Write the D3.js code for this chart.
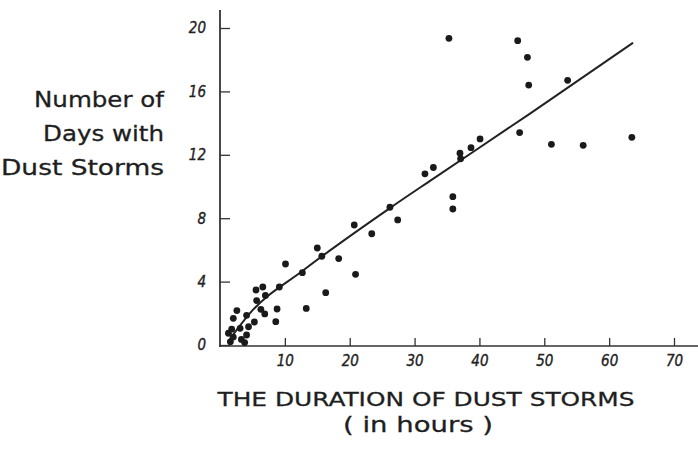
<!DOCTYPE html>
<html>
<head>
<meta charset="utf-8">
<script src="https://cdn.jsdelivr.net/npm/d3@7"></script>
<style>
    body { margin: 0; background: #fff; }
    .tick text { font-family: "DejaVu Sans Condensed", "Liberation Sans Narrow", sans-serif; font-style: italic; font-size: 15px; fill: #222; stroke: #222; stroke-width: 0.35px; }
    .label { font-family: "DejaVu Sans", sans-serif; fill: #1e1e1e; stroke: #1e1e1e; stroke-width: 0.3px; }
</style>
</head>
<body>
<div id="chart"></div>
<script>
// duration of dust storms (hours) and number of days with dust storms
var hours = [
    35.3, 45.9, 47.4, 47.6, 53.6, 63.5, 46.2, 51.1, 56.0, 40.1, 38.7, 37.0, 37.1, 32.9, 31.6, 35.9, 35.9,
    26.2, 27.4, 20.7, 23.4, 15.0, 15.7, 18.3, 10.1, 12.7, 20.9, 16.3, 13.3, 9.15, 6.6, 5.55, 7.0, 5.65,
    8.8, 6.3, 6.9, 8.6, 5.3,
    2.6, 2.05, 4.1, 1.8, 3.1, 4.4, 1.3, 2.05, 4.1, 3.3, 1.6, 3.8
];
var days = [
    19.35, 19.2, 18.15, 16.4, 16.7, 13.1, 13.4, 12.66, 12.6, 13.0, 12.45, 12.1, 11.75, 11.2, 10.8, 9.36, 8.58,
    8.69, 7.89, 7.57, 7.02, 6.12, 5.6, 5.45, 5.11, 4.56, 4.46, 3.3, 2.31, 3.66, 3.66, 3.47, 3.13, 2.8,
    2.27, 2.25, 1.96, 1.47, 1.45,
    2.17, 1.68, 1.87, 1.0, 1.05, 1.15, 0.74, 0.5, 0.63, 0.35, 0.2, 0.15
];

// hand-drawn fit curve
var fitHours = [1.2, 4.6, 12.8, 26.2, 32.9, 47.8, 63.7];
var fitDays = [0.2, 2.0, 4.7, 8.64, 10.5, 14.6, 19.07];

var xTicks = [10, 20, 30, 40, 50, 60, 70];
var yTicks = [0, 4, 8, 12, 16, 20];
var yLabelLines = ["Number of", "Days with", "Dust Storms"];
var yLabelWidths = [130, 121, 163];

var width = 698;
var height = 454;

var svg = d3.select("#chart")
    .append("svg")
    .attr("width", width)
    .attr("height", height);

var xScale = d3.scaleLinear().domain([0, 70]).range([220, 674]);
var yScale = d3.scaleLinear().domain([0, 20]).range([345, 28]);

// x axis, ticks pointing up into the plot
var xAxis = svg.append("g")
    .attr("transform", "translate(0,346)")
    .call(d3.axisBottom(xScale).tickValues(xTicks).tickSizeInner(-8).tickSizeOuter(0).tickPadding(9));
xAxis.select(".domain").remove();
xAxis.selectAll(".tick line").attr("stroke", "#333").attr("stroke-width", 1.3);

svg.append("line")
    .attr("x1", 219).attr("x2", 698)
    .attr("y1", 346).attr("y2", 346)
    .attr("stroke", "#333").attr("stroke-width", 1.6);

// y axis, ticks pointing right
var yAxis = svg.append("g")
    .attr("transform", "translate(220,0)")
    .call(d3.axisLeft(yScale).tickValues(yTicks).tickSizeInner(-10).tickSizeOuter(0).tickPadding(14));
yAxis.select(".domain").remove();
yAxis.selectAll(".tick line").attr("stroke", "#333").attr("stroke-width", 1.3);

svg.append("line")
    .attr("x1", 220).attr("x2", 220)
    .attr("y1", 10).attr("y2", 347)
    .attr("stroke", "#333").attr("stroke-width", 1.8);

// fit line
var fit = fitHours.map(function (h, i) { return [h, fitDays[i]]; });
svg.append("path")
    .datum(fit)
    .attr("fill", "none")
    .attr("stroke", "#222")
    .attr("stroke-width", 2)
    .attr("d", d3.line()
        .x(function (d) { return xScale(d[0]); })
        .y(function (d) { return yScale(d[1]); })
        .curve(d3.curveMonotoneX));

// points
var points = hours.map(function (h, i) { return { h: h, d: days[i] }; });
svg.selectAll("circle.pt")
    .data(points)
    .enter()
    .append("circle")
    .attr("class", "pt")
    .attr("cx", function (d) { return xScale(d.h); })
    .attr("cy", function (d) { return yScale(d.d); })
    .attr("r", 3.4)
    .attr("fill", "#1a1a1a");

// y label, three right-aligned lines
svg.selectAll("text.ylab")
    .data(yLabelLines)
    .enter()
    .append("text")
    .attr("class", "label ylab")
    .attr("x", 164)
    .attr("y", function (d, i) { return 107 + i * 34; })
    .attr("text-anchor", "end")
    .attr("textLength", function (d, i) { return yLabelWidths[i]; })
    .attr("lengthAdjust", "spacingAndGlyphs")
    .style("font-size", "21px")
    .text(function (d) { return d; });

svg.append("text")
    .attr("class", "label")
    .attr("x", 426)
    .attr("y", 406)
    .attr("text-anchor", "middle")
    .attr("textLength", 417)
    .attr("lengthAdjust", "spacingAndGlyphs")
    .style("font-size", "20px")
    .text("THE DURATION OF DUST STORMS");

svg.append("text")
    .attr("class", "label")
    .attr("x", 418)
    .attr("y", 432)
    .attr("text-anchor", "middle")
    .attr("textLength", 150)
    .attr("lengthAdjust", "spacingAndGlyphs")
    .style("font-size", "21px")
    .text("( in hours )");
</script>
</body>
</html>
